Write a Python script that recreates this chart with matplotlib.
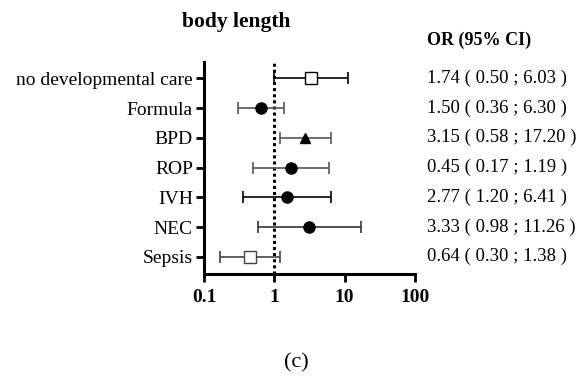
import matplotlib.pyplot as plt
import matplotlib.transforms as mtransforms

# rows as drawn (top to bottom)
labels = ['no developmental care', 'Formula', 'BPD', 'ROP', 'IVH', 'NEC', 'Sepsis']

# plotted points
or_vals = [3.33, 0.64, 2.77, 1.74, 1.50, 3.15, 0.45]
ci_low = [0.98, 0.30, 1.20, 0.50, 0.36, 0.58, 0.17]
ci_high = [11.26, 1.38, 6.41, 6.03, 6.30, 17.20, 1.19]

# text column on the right
or_text = ['1.74 ( 0.50 ; 6.03 )', '1.50 ( 0.36 ; 6.30 )', '3.15 ( 0.58 ; 17.20 )',
           '0.45 ( 0.17 ; 1.19 )', '2.77 ( 1.20 ; 6.41 )', '3.33 ( 0.98 ; 11.26 )',
           '0.64 ( 0.30 ; 1.38 )']

markers = ['s', 'o', '^', 'o', 'o', 'o', 's']
filled = [False, True, True, True, True, True, False]
colors = ['black', '#555555', '#555555', '#555555', 'black', '#333333', '#444444']

plt.rcParams['font.family'] = ['Liberation Serif', 'DejaVu Serif']

fig = plt.figure(figsize=(5.8, 3.81), dpi=100)
ax = fig.add_axes([204 / 580, 1 - 274 / 381, 211 / 580, 212 / 381])

for i in range(len(labels)):
    err = [[or_vals[i] - ci_low[i]], [ci_high[i] - or_vals[i]]]
    ax.errorbar(or_vals[i], i, xerr=err, fmt='none', ecolor=colors[i],
                elinewidth=1.2, capsize=4, capthick=1.2, zorder=2)
    ax.plot(or_vals[i], i, marker=markers[i], markersize=8 if markers[i] != '^' else 7.5,
            markerfacecolor='black' if filled[i] else 'white',
            markeredgecolor='black' if filled[i] else colors[i],
            markeredgewidth=1.0, linestyle='none', zorder=3)

ax.axvline(1, color='black', linestyle=(0, (1, 1)), linewidth=2.2, zorder=1)

ax.set_xscale('log')
ax.set_xlim(0.1, 100)
ax.set_ylim(6.58, -0.55)
ax.set_xticks([0.1, 1, 10, 100])
ax.set_xticklabels(['0.1', '1', '10', '100'], fontweight='bold', fontsize=14)
ax.minorticks_off()
ax.set_yticks(range(len(labels)))
ax.set_yticklabels(labels, fontsize=14)

for s in ['top', 'right']:
    ax.spines[s].set_visible(False)
for s in ['left', 'bottom']:
    ax.spines[s].set_linewidth(2.2)
ax.tick_params(axis='both', width=2, length=6, direction='out')
ax.tick_params(axis='x', pad=5)
ax.tick_params(axis='y', pad=2)

trans = mtransforms.blended_transform_factory(fig.transFigure, ax.transData)
for i, t in enumerate(or_text):
    fig.text(427 / 580, i, t, transform=trans, fontsize=13.5, va='center', ha='left')

fig.text(427 / 580, 1 - 40 / 381, 'OR (95% CI)', fontsize=13, fontweight='bold',
         va='center', ha='left')
fig.text(236 / 580, 1 - 22 / 381, 'body length', fontsize=15.5, fontweight='bold',
         va='center', ha='center')
fig.text(296 / 580, 1 - 363 / 381, '(c)', fontsize=16, va='center', ha='center')

fig.savefig('out.png', dpi=100)
